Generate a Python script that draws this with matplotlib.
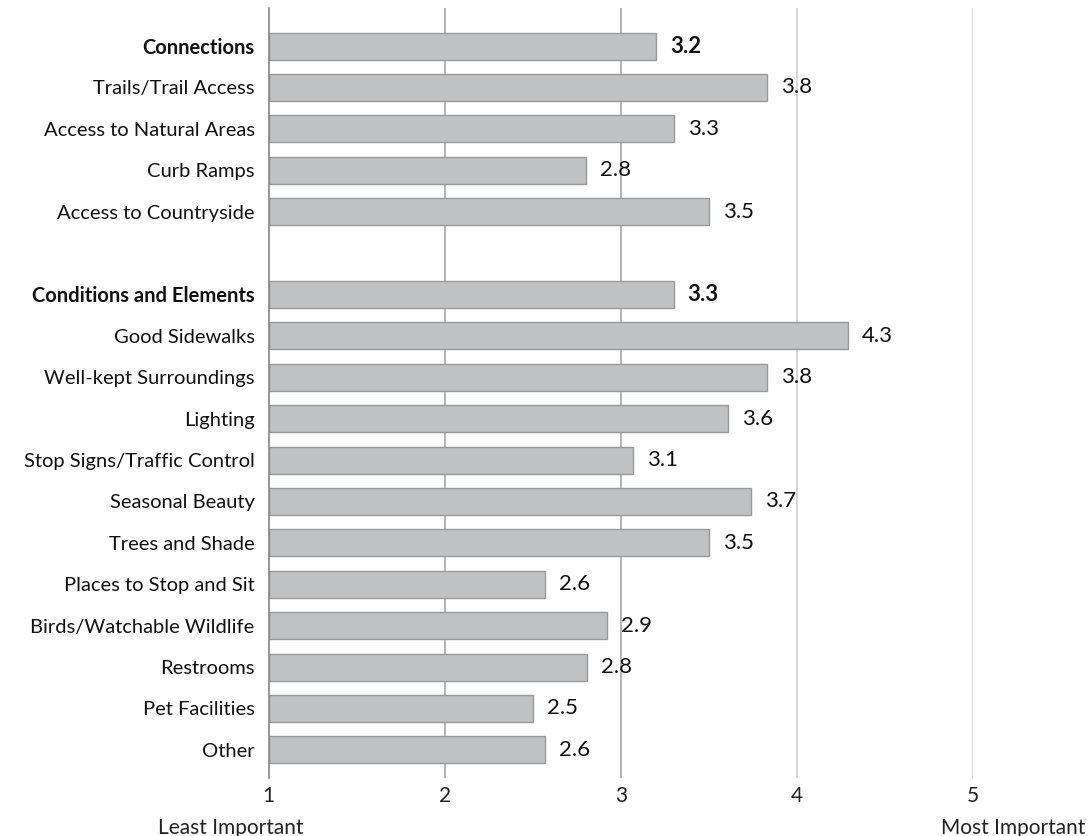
import matplotlib
matplotlib.use("Agg")
import matplotlib.pyplot as plt

plt.rcParams["font.family"] = ["Lato", "DejaVu Sans"]

labels = ["Connections", "Trails/Trail Access", "Access to Natural Areas", "Curb Ramps",
          "Access to Countryside", "",
          "Conditions and Elements", "Good Sidewalks", "Well-kept Surroundings", "Lighting",
          "Stop Signs/Traffic Control", "Seasonal Beauty", "Trees and Shade",
          "Places to Stop and Sit", "Birds/Watchable Wildlife", "Restrooms",
          "Pet Facilities", "Other"]
values = [3.20, 3.83, 3.30, 2.80, 3.50, None,
          3.30, 4.29, 3.83, 3.61, 3.07, 3.74, 3.50,
          2.57, 2.92, 2.81, 2.50, 2.57]
shown = ["3.2", "3.8", "3.3", "2.8", "3.5", "",
         "3.3", "4.3", "3.8", "3.6", "3.1", "3.7", "3.5",
         "2.6", "2.9", "2.8", "2.5", "2.6"]
headers = ["Connections", "Conditions and Elements"]
xticks = [1, 2, 3, 4, 5]

fig = plt.figure(figsize=(10.9, 8.36), dpi=100)
ax = fig.add_axes([268.5 / 1090, 58 / 836, (973 - 268.5) / 1090, 770 / 836])

for x in xticks[1:]:
    c = "#a9a9a9" if x < 4 else "#cfcfcf"
    ax.axvline(x, color=c, lw=1.2, zorder=0)

for i, (lab, v, s) in enumerate(zip(labels, values, shown)):
    if v is None:
        continue
    ax.barh(i, v - 1, left=1, height=0.65, color="#c0c1c3", edgecolor="#999999",
            linewidth=1, zorder=2)
    bold = lab in headers
    ax.text(v + 0.08, i, s, va="center", ha="left", fontsize=16,
            fontweight="bold" if bold else "normal", color="#111111")

ax.set_yticks(range(len(labels)))
ax.set_yticklabels(labels, fontsize=14.5, color="#111111")
for t, lab in zip(ax.get_yticklabels(), labels):
    if lab in headers:
        t.set_fontweight("bold")
ax.set_ylim(17.68, -0.92)
ax.set_xlim(1, 5)
ax.set_xticks(xticks)
ax.tick_params(axis="y", length=0, pad=10)
ax.tick_params(axis="x", length=0, pad=6, labelsize=15, labelcolor="#222222")

for sp in ["top", "right", "bottom"]:
    ax.spines[sp].set_visible(False)
ax.spines["left"].set_color("#888888")
ax.spines["left"].set_linewidth(1.2)

fig.text(158 / 1090, 1 - 828 / 836, "Least Important", ha="left", va="center",
         fontsize=15, color="#222222")
fig.text(1085 / 1090, 1 - 828 / 836, "Most Important", ha="right", va="center",
         fontsize=15, color="#222222")

fig.savefig("out.png", dpi=100)
